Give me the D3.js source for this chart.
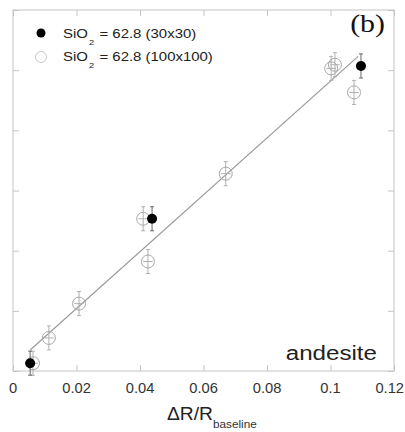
<!DOCTYPE html>
<html>
<head>
<meta charset="utf-8">
<script src="https://d3js.org/d3.v7.min.js"></script>
<style>
  body { margin: 0; background: #fff; }
  svg { display: block; font-family: "Liberation Sans", Arial, sans-serif; }
</style>
</head>
<body>
<svg id="chart" width="405" height="432"></svg>
<script>
// 30x30 run (filled)
const smallX = [0.0054, 0.0438, 0.1096];
const smallY = [0.13, 2.53, 5.07];
// 100x100 run (open)
const bigX = [0.0063, 0.0113, 0.0208, 0.0410, 0.0425, 0.0670, 0.1002, 0.1014, 0.1074];
const bigY = [0.13, 0.55, 1.12, 2.53, 1.82, 3.28, 5.03, 5.09, 4.63];
// fit line ends
const fitX = [0.0054, 0.1087];
const fitY = [0.35, 5.23];
const xTicks = [0, 0.02, 0.04, 0.06, 0.08, 0.1, 0.12];
const yTicks = [0, 1, 2, 3, 4, 5, 6];
const legendLabels = ["62.8 (30x30)", "62.8 (100x100)"];

const svg = d3.select("#chart");
const pL = 13, pR = 394, pT = 10, pB = 371;
const sx = 1.15; // the original looks a bit stretched sideways

const x = d3.scaleLinear().domain([0, 0.12]).range([pL, pR]);
const y = d3.scaleLinear().domain([0, 6]).range([pB, pT]);

const frame = "#c4c4c4";

// text at (tx,ty), stretched horizontally
function label(tx, ty, s, k) {
  return svg.append("text")
    .attr("transform", `translate(${tx},${ty}) scale(${k || sx},1)`)
    .text(s);
}

// frame
svg.append("rect")
  .attr("x", pL).attr("y", pT)
  .attr("width", pR - pL).attr("height", pB - pT)
  .attr("fill", "none").attr("stroke", frame).attr("stroke-width", 1);

// ticks (inward, all four sides)
svg.append("g").attr("transform", `translate(0,${pB})`)
  .call(d3.axisTop(x).tickValues(xTicks).tickSize(6).tickFormat(""))
  .call(g => { g.select(".domain").remove(); g.selectAll("line").attr("stroke", frame); });
svg.append("g").attr("transform", `translate(0,${pT})`)
  .call(d3.axisBottom(x).tickValues(xTicks).tickSize(6).tickFormat(""))
  .call(g => { g.select(".domain").remove(); g.selectAll("line").attr("stroke", frame); });
svg.append("g").attr("transform", `translate(${pL},0)`)
  .call(d3.axisRight(y).tickValues(yTicks).tickSize(6).tickFormat(""))
  .call(g => { g.select(".domain").remove(); g.selectAll("line").attr("stroke", frame); });
svg.append("g").attr("transform", `translate(${pR},0)`)
  .call(d3.axisLeft(y).tickValues(yTicks).tickSize(6).tickFormat(""))
  .call(g => { g.select(".domain").remove(); g.selectAll("line").attr("stroke", frame); });

// x tick labels (last one pushed against the right edge)
xTicks.forEach((d, i) => {
  const last = i === xTicks.length - 1;
  label(last ? 404 : x(d), 393, d3.format("~g")(d), 1.05)
    .attr("text-anchor", last ? "end" : "middle")
    .attr("font-size", 14).attr("fill", "#333");
});

// axis title
label(213, 420, "\u0394R/R", 1.07)
  .attr("text-anchor", "end").attr("font-size", 18).attr("fill", "#222");
label(213, 428, "baseline", 1.07)
  .attr("font-size", 11).attr("fill", "#333");

// fit line
svg.append("line")
  .attr("x1", x(fitX[0])).attr("y1", y(fitY[0]))
  .attr("x2", x(fitX[1])).attr("y2", y(fitY[1]))
  .attr("stroke", "#9a9a9a").attr("stroke-width", 1.2);

const ex = 0.0015, ey = 0.2;
function errBars(xs, ys, color) {
  const g = svg.append("g").attr("stroke", color).attr("stroke-width", 1);
  xs.forEach((d, i) => {
    g.append("line").attr("x1", x(d)).attr("x2", x(d)).attr("y1", y(ys[i] - ey)).attr("y2", y(ys[i] + ey));
    g.append("line").attr("x1", x(d) - 2).attr("x2", x(d) + 2).attr("y1", y(ys[i] - ey)).attr("y2", y(ys[i] - ey));
    g.append("line").attr("x1", x(d) - 2).attr("x2", x(d) + 2).attr("y1", y(ys[i] + ey)).attr("y2", y(ys[i] + ey));
    g.append("line").attr("x1", x(d - ex)).attr("x2", x(d + ex)).attr("y1", y(ys[i])).attr("y2", y(ys[i]));
  });
}

// open points
errBars(bigX, bigY, "#b0b0b0");
svg.append("g").selectAll("circle").data(bigX).enter().append("circle")
  .attr("cx", d => x(d)).attr("cy", (d, i) => y(bigY[i])).attr("r", 6.5)
  .attr("fill", "none").attr("stroke", "#a8a8a8").attr("stroke-width", 1);

// filled points
errBars(smallX, smallY, "#666");
svg.append("g").selectAll("circle").data(smallX).enter().append("circle")
  .attr("cx", d => x(d)).attr("cy", (d, i) => y(smallY[i])).attr("r", 5)
  .attr("fill", "#000");

// legend
svg.append("circle").attr("cx", 41).attr("cy", 33).attr("r", 4.5).attr("fill", "#000");
svg.append("circle").attr("cx", 41).attr("cy", 57).attr("r", 5.5)
  .attr("fill", "none").attr("stroke", "#c8c8c8");
legendLabels.forEach((lab, i) => {
  const t = label(63, 38 + i * 23, "").attr("font-size", 13).attr("fill", "#222");
  t.append("tspan").text("SiO");
  t.append("tspan").attr("font-size", 8).attr("dy", 7).attr("dx", 1).text("2");
  t.append("tspan").attr("dy", -7).attr("dx", 1).text(" = " + lab);
});

// panel label
label(385, 32, "(b)")
  .attr("text-anchor", "end")
  .attr("font-family", "Liberation Serif, Times New Roman, serif")
  .attr("font-size", 26).attr("fill", "#111");

label(377, 360, "andesite")
  .attr("text-anchor", "end").attr("font-size", 21).attr("fill", "#222");
</script>
</body>
</html>
